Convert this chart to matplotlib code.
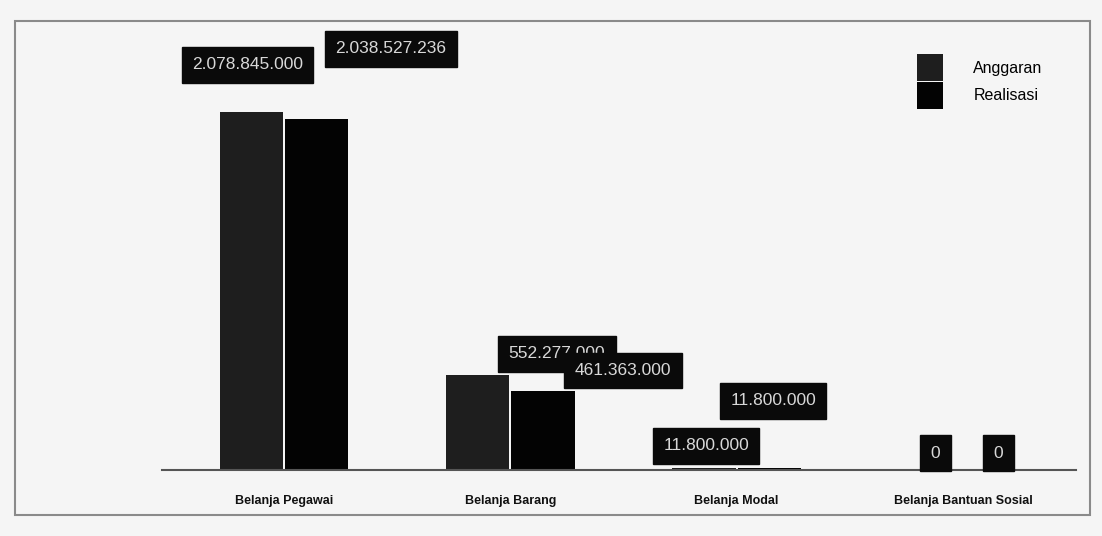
import matplotlib.pyplot as plt
import matplotlib.patches as mpatches
import numpy as np

# data
kategori = ["Belanja Pegawai", "Belanja Barang", "Belanja Modal", "Belanja Bantuan Sosial"]
anggaran = [2078845000, 552277000, 11800000, 0]
realisasi = [2038527236, 461363000, 11800000, 0]
label_anggaran = ["2.078.845.000", "552.277.000", "11.800.000", "0"]
label_realisasi = ["2.038.527.236", "461.363.000", "11.800.000", "0"]

# label box offsets (pixels) from the bar top
off_anggaran = [(-4, 47), (79, 21), (2, 22), (5, 17)]
off_realisasi = [(74, 70), (80, 20), (4, 67), (3, 17)]

plt.rcParams['font.family'] = ['Liberation Sans', 'DejaVu Sans']

fig = plt.figure(figsize=(11.02, 5.36), dpi=100)
fig.patch.set_facecolor('#f5f5f5')

# outer frame of the scanned chart
frame = mpatches.Rectangle((15 / 1102, 21 / 536), 1075 / 1102, 494 / 536,
                           transform=fig.transFigure, fill=False,
                           edgecolor='#8a8a8a', linewidth=1.5)
fig.patches.append(frame)

ax = fig.add_axes([171 / 1102, (536 - 470) / 536, 905 / 1102, 440 / 536])
ax.set_facecolor('#f5f5f5')

x = np.arange(len(kategori))
w = 0.28
b1 = ax.bar(x - w / 2 - 0.004, anggaran, w, color='#1e1e1e', label='Anggaran')
b2 = ax.bar(x + w / 2 + 0.004, realisasi, w, color='#030303', label='Realisasi')

ax.set_xlim(-0.5, 3.5)
ax.set_ylim(0, 2555000000)

for bars, labels, offs in [(b1, label_anggaran, off_anggaran),
                           (b2, label_realisasi, off_realisasi)]:
    for bar, lab, off in zip(bars, labels, offs):
        ax.annotate(lab, (bar.get_x() + bar.get_width() / 2, bar.get_height()),
                    xytext=off, textcoords='offset pixels',
                    ha='center', va='center', color='#d8d8d8', fontsize=12.5,
                    bbox=dict(boxstyle='square,pad=0.6', fc='#0a0a0a', ec='#0a0a0a'))

for s in ['top', 'right', 'left']:
    ax.spines[s].set_visible(False)
ax.spines['bottom'].set_color('#555555')
ax.spines['bottom'].set_linewidth(1.5)
ax.spines['bottom'].set_bounds(-0.54, 3.5)
ax.set_yticks([])
ax.set_xticks(x)
ax.set_xticklabels(kategori, fontsize=9, fontweight='bold', color='#111111')
ax.tick_params(axis='x', length=0, pad=18)

leg = fig.legend(handles=[b1, b2], loc='upper left',
                 bbox_to_anchor=(903 / 1102, 1 - 40 / 536),
                 frameon=False, fontsize=11.5, handlelength=1.6, handleheight=2.2,
                 labelspacing=0.05, handletextpad=1.9)

plt.savefig('out.png', dpi=100, facecolor=fig.get_facecolor())
